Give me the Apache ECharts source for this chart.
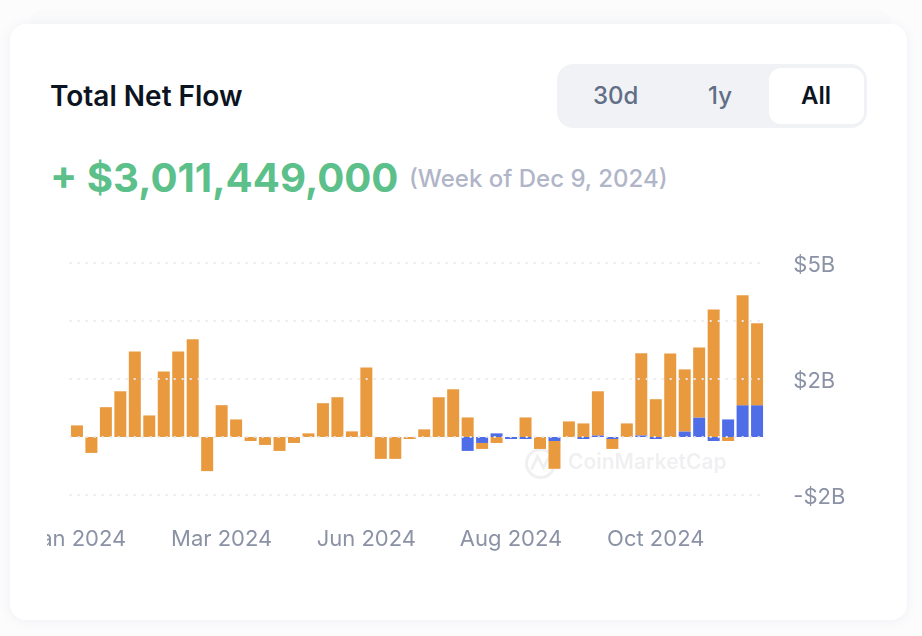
<!DOCTYPE html>
<html>
<head>
<meta charset="UTF-8">
<title>Total Net Flow</title>
<script src="https://cdn.jsdelivr.net/npm/echarts@6/dist/echarts.min.js"></script>
<style>
html,body{margin:0;padding:0;width:922px;height:636px;overflow:hidden;background:#fcfcfd;font-family:Inter,sans-serif;}
#back{position:absolute;left:30px;top:10px;width:860px;height:30px;background:#fafafb;border-radius:12px;}
#card{position:absolute;left:10px;top:24px;width:897px;height:596px;background:#fff;border-radius:16px;box-shadow:0 1px 12px rgba(88,102,126,.08);}
.t{position:absolute;white-space:nowrap;line-height:1;}
#tabs{position:absolute;left:557px;top:64px;width:310px;height:64px;background:#f0f2f6;border-radius:16px;}
#active{position:absolute;left:212px;top:4px;width:95px;height:56px;background:#fff;border-radius:12px;}
#box{position:absolute;left:47px;top:240px;width:830px;height:330px;}
</style>
</head>
<body>
<div id="back"></div>
<div id="card"></div>
<div class="t" style="left:50px;top:82px;font-size:28px;font-weight:600;color:#0d1421;">Total Net Flow</div>
<div id="tabs"><div id="active"></div></div>
<div class="t" style="left:593px;top:84px;font-size:24px;font-weight:500;color:#616e85;">30d</div>
<div class="t" style="left:708px;top:84px;font-size:24px;font-weight:500;color:#616e85;">1y</div>
<div class="t" style="left:801px;top:84px;font-size:24px;font-weight:600;color:#0d1421;">All</div>
<div class="t" style="left:50px;top:158px;font-size:40.2px;font-weight:700;color:#5cc08a;">+ $3,011,449,000</div>
<div class="t" style="left:409px;top:167px;font-size:24px;font-weight:500;color:#b1b5c8;">(Week of Dec 9, 2024)</div>
<div id="box"></div>

<script type="text/javascript">
// weekly buckets, Jan 15 to Dec 9 2024
var weeks=['Jan 2024','Jan 22','Jan 29','Feb 5','Feb 12','Feb 19','Feb 26','Mar 4','Mar 11','Mar 18',
  'Mar 2024','Apr 1','Apr 8','Apr 15','Apr 22','Apr 29','May 6','May 13','May 20','May 27',
  'Jun 2024','Jun 10','Jun 17','Jun 24','Jul 1','Jul 8','Jul 15','Jul 22','Jul 29','Aug 5',
  'Aug 2024','Aug 19','Aug 26','Sep 2','Sep 9','Sep 16','Sep 23','Sep 30','Oct 7','Oct 14',
  'Oct 2024','Oct 28','Nov 4','Nov 11','Nov 18','Nov 25','Dec 2','Dec 9'];

// values in $B
var blue=[0,0,0,0,0,0,0,0,0,0,
  0,0,0,0,0,0,0,0,0,0,
  0,0,0,0,0,0,0,-0.42,-0.18,0.11,
  -0.06,-0.06,0,-0.12,0,-0.06,0.05,-0.06,0,0.05,
  -0.06,0,0.17,0.59,-0.12,0.53,0.96,0.96];
var orange=[0.35,-0.48,0.90,1.38,2.58,0.65,1.98,2.58,2.95,-1.03,
  0.96,0.53,-0.12,-0.24,-0.42,-0.18,0.11,1.02,1.20,0.17,
  2.10,-0.66,-0.66,-0.06,0.23,1.20,1.44,0.59,-0.18,-0.18,
  0,0.59,-0.36,-0.84,0.47,0.41,1.33,-0.30,0.41,2.48,
  1.14,2.52,1.87,2.11,3.85,-0.12,3.32,2.47];

// axis ticks are 1.75B apart, labels get rounded, 0 and 3.5 are not shown
var tickLabels={'-1.75':'-$2B','1.75':'$2B','5.25':'$5B'};

var mychart=echarts.init(document.getElementById('box'));

var option={
  animation:false,
  grid:{left:22.7,right:112.7,top:23,bottom:75,outerBoundsMode:'none'},
  xAxis:{
    type:'category',
    data:weeks,
    axisLine:{show:false},
    axisTick:{show:false},
    axisLabel:{
      interval:9,
      hideOverlap:false,
      color:'#8b92a5',
      fontFamily:'Inter',
      fontSize:22,
      margin:33,
      formatter:function(v){return v.indexOf('2024')>-1?v:'';}
    }
  },
  yAxis:{
    type:'value',
    position:'right',
    min:-1.75,
    max:5.25,
    interval:1.75,
    z:3,
    axisLine:{show:false},
    axisTick:{show:false},
    axisLabel:{
      margin:29,
      rich:{
        tick:{color:'#8b92a5',fontFamily:'Inter',fontSize:22,padding:[4,0,0,0]}
      },
      formatter:function(v){
        var s=tickLabels[String(v)];
        return s?'{tick|'+s+'}':'';
      }
    },
    splitLine:{lineStyle:{color:'#e6e8ee',width:2,type:[2,6]}}
  },
  graphic:[{
    type:'text',
    left:521,
    top:212,
    z:1,
    style:{text:'CoinMarketCap',fill:'rgba(60,70,90,0.08)',font:'600 21px Inter'}
  },{
    type:'circle',
    left:477,
    top:207,
    z:1,
    shape:{r:14},
    style:{fill:'none',stroke:'rgba(60,70,90,0.08)',lineWidth:3}
  },{
    type:'polyline',
    left:482,
    top:214,
    z:1,
    shape:{points:[[0,14],[6,1],[12,12],[18,1],[21,12]]},
    style:{fill:'none',stroke:'rgba(60,70,90,0.08)',lineWidth:3}
  }],
  series:[{
    name:'blue',
    type:'bar',
    stack:'flow',
    barWidth:12,
    itemStyle:{color:'#4f6de6'},
    data:blue
  },{
    name:'orange',
    type:'bar',
    stack:'flow',
    barWidth:12,
    itemStyle:{color:'#e99a3f'},
    data:orange
  }]
};

mychart.setOption(option);
</script>
</body>
</html>
